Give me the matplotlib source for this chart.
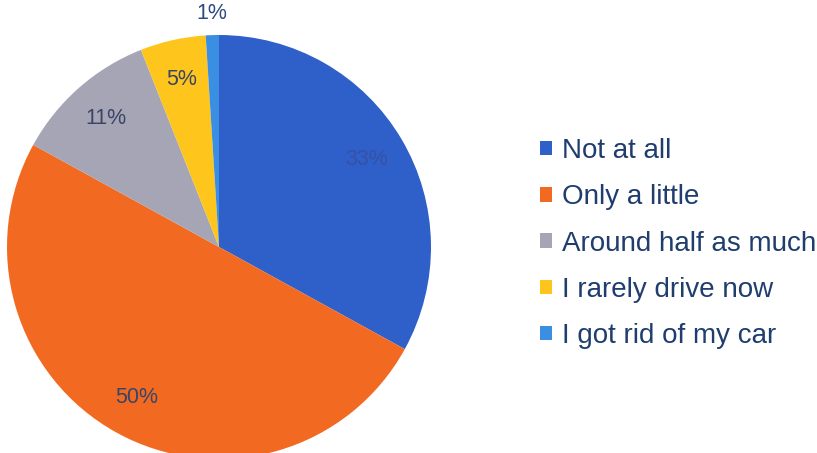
import numpy as np
import matplotlib
matplotlib.use('Agg')
import matplotlib.pyplot as plt
from matplotlib.patches import Patch

labels = ['Not at all', 'Only a little', 'Around half as much',
          'I rarely drive now', 'I got rid of my car']
shares = [33, 50, 11, 5, 1]
colors = ['#2f5fc8', '#f26a22', '#a6a5b6', '#fec51c', '#3a8fe2']

plt.rcParams['font.family'] = ['Liberation Sans', 'DejaVu Sans']

W, H = 817, 453
fig = plt.figure(figsize=(W/100, H/100), dpi=100)
# pie: center (219, 247) px, radius 212 px
cx, cy, r = 219, 247, 212
ax = fig.add_axes([(cx-r)/W, (H-cy-r)/H, 2*r/W, 2*r/H])
wedges, texts, autotexts = ax.pie(shares, colors=colors, startangle=90,
                                  counterclock=False, autopct='%d%%',
                                  pctdistance=0.81, radius=1,
                                  textprops={'fontsize': 15.5, 'color': '#3a4466'})
ax.set_xlim(-1, 1)
ax.set_ylim(-1, 1)
ax.set_aspect('equal')
ax.axis('off')

# the tiny slice gets its label outside the pie
w = wedges[-1]
mid = np.deg2rad((w.theta1 + w.theta2) / 2)
autotexts[-1].set_position((1.1*np.cos(mid), 1.1*np.sin(mid)))
autotexts[-1].set_color('#2c4a80')
autotexts[0].set_color('#3552a6')

handles = [Patch(facecolor=c, edgecolor='none') for c in colors]
fig.legend(handles, labels, loc='upper left',
           bbox_to_anchor=(540/W, 1 - 138/H), frameon=False,
           fontsize=20, handlelength=0.43, handleheight=0.43,
           handletextpad=0.35, labelspacing=0.73, borderpad=0,
           borderaxespad=0, labelcolor='#1f3e6e')

fig.savefig('out.png', dpi=100)
